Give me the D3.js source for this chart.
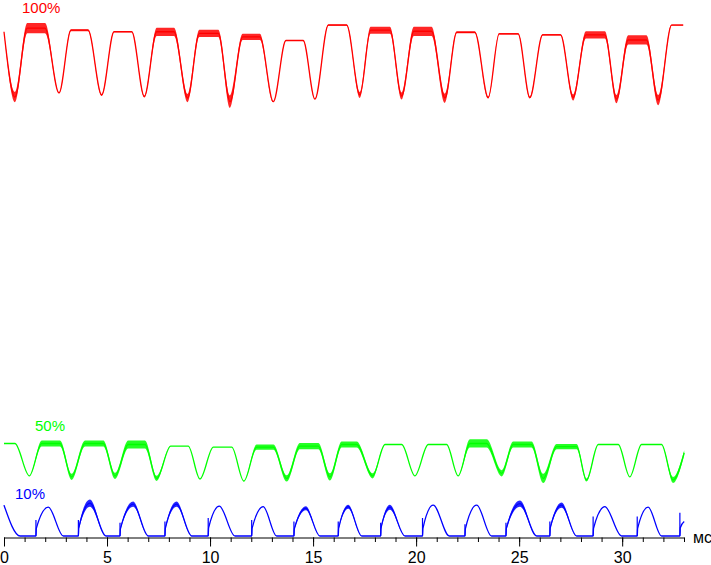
<!DOCTYPE html>
<html>
<head>
<meta charset="utf-8">
<script src="https://cdn.jsdelivr.net/npm/d3@7"></script>
<style>
  body { margin: 0; background: #fff; }
  svg { display: block; font-family: "Liberation Sans", Arial, sans-serif; }
</style>
</head>
<body>
<svg id="chart" width="711" height="565"></svg>
<script>
// time in ms, brightness in % of max
var xTicks = [0, 5, 10, 15, 20, 25, 30];
var timeMax = 33;

// 100% - red
var redStartV = 98.1;
var redTroughT = [0.53, 2.67, 4.74, 6.81, 8.91, 10.97, 13.07, 15.09, 17.27, 19.30, 21.40, 23.50, 25.52, 27.62, 29.73, 31.75];
var redTroughV = [85.4, 86.2, 85.8, 85.5, 85.2, 84.5, 84.5, 85.0, 85.8, 85.6, 85.2, 85.3, 85.3, 85.3, 85.0, 84.8];
var redTroughNoise = [1.0, 0.1, 0.2, 0.2, 0.8, 1.2, 0.1, 0.1, 0.6, 0.7, 0.9, 0.2, 0.2, 0.6, 0.8, 1.0];
var redTopStart = [1.13, 3.25, 5.34, 7.41, 9.48, 11.58, 13.68, 15.74, 17.79, 19.89, 21.97, 24.03, 26.14, 28.24, 30.29, 32.40];
var redTopEnd = [1.99, 4.08, 6.20, 8.25, 10.40, 12.42, 14.52, 16.63, 18.73, 20.75, 22.85, 24.95, 27.01, 29.16, 31.18, 32.96];
var redTopV = [98.8, 98.4, 98.1, 98.1, 97.8, 97.1, 96.4, 99.4, 98.4, 98.2, 98.0, 97.7, 97.5, 97.5, 96.5, 99.4];
var redTopNoise = [1.0, 0.2, 0.1, 0.8, 0.7, 0.6, 0.1, 0.15, 0.7, 0.9, 0.2, 0.15, 0.15, 0.7, 0.9, 0.1];

// 50% - green
var greenTopStart = [0, 1.83, 3.93, 6.03, 8.09, 10.16, 12.26, 14.36, 16.39, 18.49, 20.59, 22.61, 24.71, 26.82, 28.84, 30.94];
var greenTopEnd = [0.53, 2.72, 4.82, 6.84, 8.94, 11.05, 13.07, 15.25, 17.11, 19.30, 21.48, 23.42, 25.60, 27.79, 29.81, 31.91];
var greenTopV = [18.0, 18.0, 18.0, 17.8, 17.5, 17.3, 17.3, 17.5, 17.8, 17.8, 17.8, 18.0, 17.8, 17.4, 17.8, 17.8];
var greenTopNoise = [0, 0.6, 0.6, 0.8, 0, 0, 0.5, 0.6, 0.6, 0, 0, 0.8, 0.6, 0.5, 0, 0];
var greenTroughT = [1.23, 3.28, 5.39, 7.41, 9.51, 11.64, 13.72, 15.82, 17.89, 19.94, 22.04, 24.15, 26.17, 28.27, 30.37, 32.47];
var greenTroughV = [11.7, 11.5, 11.7, 11.2, 11.1, 10.7, 11.2, 11.5, 11.7, 11.7, 11.7, 12.2, 11.2, 10.9, 11.5, 10.9];
var greenTroughNoise = [0, 0.6, 0.6, 0.5, 0, 0, 0.6, 0.7, 0.5, 0, 0, 0.6, 0.9, 0.3, 0, 0.6];
var greenEnd = [33.01, 16.2, 0.5];

// 10% - blue
var blueStart = [0, 6.0];
var blueFirstZero = 0.78;
var blueRiseT = [1.55, 3.61, 5.63, 7.81, 9.91, 12.02, 14.07, 16.22, 18.28, 20.31, 22.37, 24.36, 26.49, 28.59, 30.73, 32.80];
var blueSpikeV = [3.1, 3.1, 2.6, 2.8, 3.5, 3.1, 2.8, 2.8, 2.6, 3.5, 2.3, 2.6, 2.8, 3.8, 3.8, 4.5];
var blueKneeV = [1.5, 1.6, 1.4, 1.5, 1.6, 1.5, 1.4, 1.5, 1.6, 1.5, 1.4, 1.5, 1.6, 1.5, 1.5, 1.6];
var bluePeakT = [2.15, 4.17, 6.27, 8.38, 10.45, 12.58, 14.65, 16.71, 18.73, 20.83, 22.94, 25.04, 27.06, 29.16, 31.26];
var bluePeakV = [5.6, 6.4, 6.2, 6.2, 5.8, 5.7, 5.4, 5.7, 5.6, 6.0, 6.0, 6.3, 6.0, 5.7, 5.6];
var bluePeakNoise = [0, 0.7, 0.5, 0.5, 0, 0, 0.4, 0.4, 0.5, 0, 0, 0.6, 0.5, 0, 0];
var blueZeroT = [2.88, 4.95, 7.00, 9.11, 11.21, 13.23, 15.33, 17.36, 19.46, 21.61, 23.66, 25.85, 27.79, 29.97, 31.91];
var blueEnd = [33.01, 2.8];

var colors = { red: '#ff0000', green: '#00ff00', blue: '#0000ff' };

// ---- build point lists {t, v, n}
var redPts = [{ t: 0, v: redStartV, n: 0 }];
redTroughT.forEach(function (t, i) {
  redPts.push({ t: t, v: redTroughV[i], n: redTroughNoise[i] });
  redPts.push({ t: redTopStart[i], v: redTopV[i], n: redTopNoise[i] });
  redPts.push({ t: redTopEnd[i], v: redTopV[i], n: redTopNoise[i] });
});

var greenPts = [];
greenTopStart.forEach(function (t, i) {
  greenPts.push({ t: t, v: greenTopV[i], n: greenTopNoise[i] });
  greenPts.push({ t: greenTopEnd[i], v: greenTopV[i], n: greenTopNoise[i] });
  greenPts.push({ t: greenTroughT[i], v: greenTroughV[i], n: greenTroughNoise[i] });
});
greenPts.push({ t: greenEnd[0], v: greenEnd[1], n: greenEnd[2] });

var knee = 0.02; // ms after the spike where the rise carries on
var bluePts = [{ t: blueStart[0], v: blueStart[1], n: 0 }, { t: blueFirstZero, v: 0, n: 0 }];
blueRiseT.forEach(function (t, i) {
  var n = bluePeakNoise[i] || 0;
  bluePts.push({ t: t, v: 0, n: 0 });
  bluePts.push({ t: t + knee, v: blueKneeV[i], n: n * 0.5 });
  if (i < bluePeakT.length) {
    bluePts.push({ t: bluePeakT[i], v: bluePeakV[i], n: n });
    bluePts.push({ t: blueZeroT[i], v: 0, n: 0 });
  }
});
bluePts.push({ t: blueEnd[0], v: blueEnd[1], n: 0 });

// ---- drawing
var svg = d3.select('#chart');

var x = d3.scaleLinear().domain([0, timeMax]).range([4, 684]);
var y = d3.scaleLinear().domain([0, 100]).range([536, 22]);

var line = d3.line()
  .x(function (d) { return x(d.t); })
  .y(function (d) { return y(d.v); })
  .curve(d3.curveMonotoneX);

// band around the trace stands in for the scope noise
var band = d3.area()
  .x(function (d) { return x(d.t); })
  .y0(function (d) { return y(d.v - d.n); })
  .y1(function (d) { return y(d.v + d.n); })
  .curve(d3.curveMonotoneX);

function drawSeries(pts, key) {
  svg.append('path')
    .datum(pts)
    .attr('d', band)
    .attr('fill', colors[key])
    .attr('fill-opacity', 0.85)
    .attr('stroke', 'none');
  svg.append('path')
    .datum(pts)
    .attr('d', line)
    .attr('fill', 'none')
    .attr('stroke', colors[key])
    .attr('stroke-width', 1.3);
}

// axis first so blue sits on top
var axisY = 537.5;
svg.append('g')
  .attr('transform', 'translate(0,' + axisY + ')')
  .call(d3.axisBottom(x).tickValues(d3.range(0, timeMax + 1)).tickSize(4.5).tickSizeOuter(0).tickFormat(''))
  .call(function (g) { g.select('.domain').remove(); });

var axisG = svg.append('g')
  .attr('transform', 'translate(0,' + axisY + ')')
  .call(d3.axisBottom(x).tickValues(xTicks).tickSize(9).tickSizeOuter(0).tickPadding(5).tickFormat(d3.format('d')));
axisG.selectAll('text').attr('font-size', 16).attr('fill', '#000')
  .attr('font-family', '"Liberation Sans", Arial, sans-serif');
svg.selectAll('.tick line, .domain').attr('stroke', '#000');

drawSeries(redPts, 'red');
drawSeries(greenPts, 'green');
drawSeries(bluePts, 'blue');

// start-of-rise spikes on the blue trace
svg.selectAll('line.spike')
  .data(blueRiseT)
  .enter().append('line')
  .attr('class', 'spike')
  .attr('x1', function (d) { return x(d); })
  .attr('x2', function (d) { return x(d); })
  .attr('y1', y(0))
  .attr('y2', function (d, i) { return y(blueSpikeV[i]); })
  .attr('stroke', colors.blue)
  .attr('stroke-width', 1.2);

svg.append('text').attr('x', 693).attr('y', 542.7)
  .attr('font-size', 16).attr('fill', '#000').text('мс');

var labels = [
  { text: '100%', x: 22, y: 12.5, c: colors.red },
  { text: '50%', x: 35, y: 431, c: colors.green },
  { text: '10%', x: 15, y: 499, c: colors.blue }
];
svg.selectAll('text.lbl')
  .data(labels)
  .enter().append('text')
  .attr('class', 'lbl')
  .attr('x', function (d) { return d.x; })
  .attr('y', function (d) { return d.y; })
  .attr('font-size', 15)
  .attr('fill', function (d) { return d.c; })
  .text(function (d) { return d.text; });
</script>
</body>
</html>
